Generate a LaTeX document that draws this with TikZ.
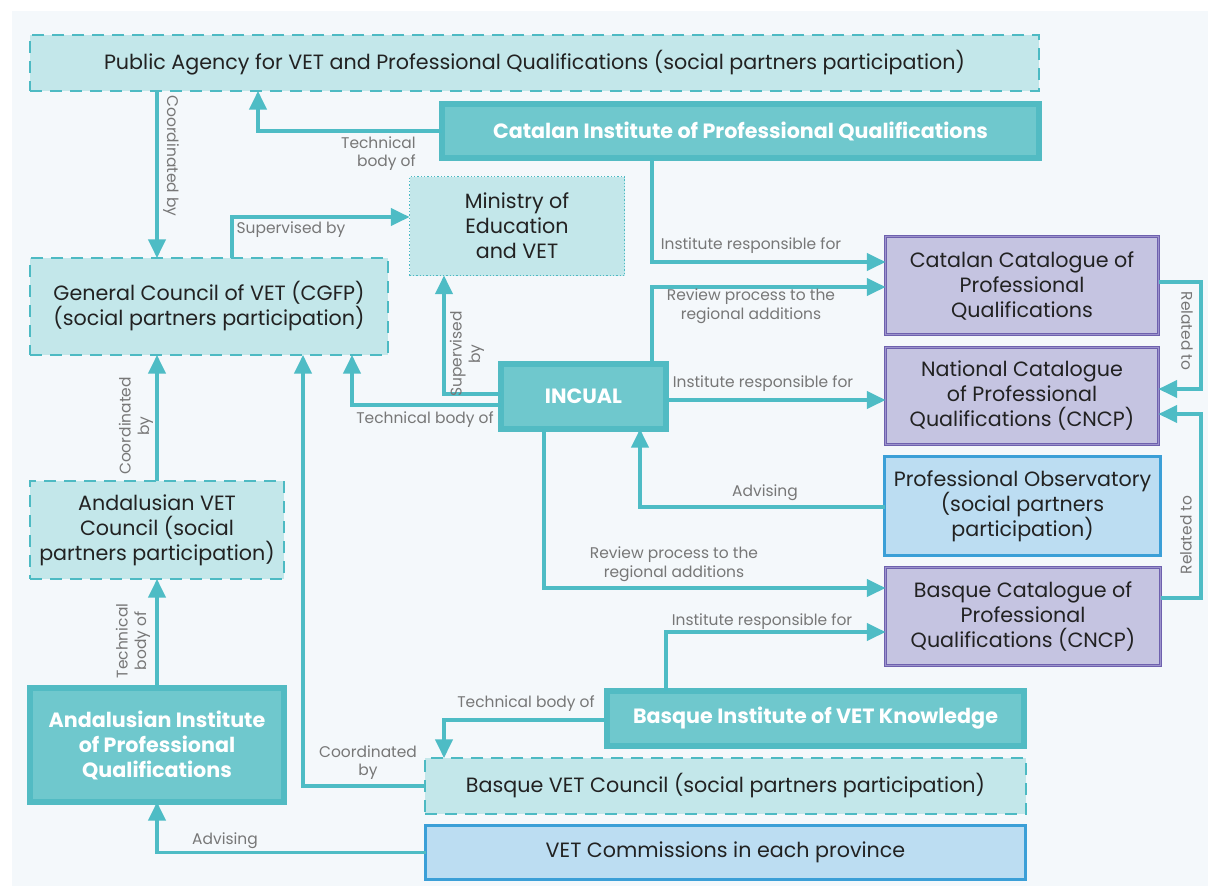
\documentclass[tikz,border=0pt]{standalone}
\usepackage{fontspec}
\setmainfont{Poppins}
\usetikzlibrary{arrows.meta}
\definecolor{lineC}{HTML}{4EBCC5}
\definecolor{lightfill}{HTML}{C3E7EA}
\definecolor{dashC}{HTML}{4DBAC3}
\definecolor{instFill}{HTML}{6FC8CD}
\definecolor{instBorder}{HTML}{52BBC3}
\definecolor{purpFill}{HTML}{C5C4E1}
\definecolor{purpBorder}{HTML}{6E61AE}
\definecolor{purpMid}{HTML}{9C93CC}
\definecolor{blueFill}{HTML}{BCDDF2}
\definecolor{blueBorder}{HTML}{3B9FD7}
\definecolor{txtC}{HTML}{222222}
\definecolor{lblC}{HTML}{777777}
\definecolor{bgC}{HTML}{F4F8FB}
\newcommand\pw[1]{#1*0.75pt}
\newcommand\mainfs{\fontsize{15.5}{18.75}\selectfont}
\newcommand\lblfs{\fontsize{11.6}{14}\selectfont}
\tikzset{
  box/.style={draw, outer sep=0pt, inner sep=0pt, align=center, text=txtC, font=\mainfs},
  dbox/.style={box, draw=dashC, fill=lightfill, line width=1.5pt, dash pattern=on 9pt off 6pt},
  mbox/.style={box, draw=dashC, fill=lightfill, line width=0.9pt, dash pattern=on 1pt off 1.5pt},
  ibox/.style={box, draw=instBorder, fill=instFill, line width=4.5pt, text=white, font=\mainfs\bfseries},
  pbox/.style={box, draw=purpBorder, fill=purpFill, line width=0.6pt, double=purpMid, double distance=1.1pt},
  bbox/.style={box, draw=blueBorder, fill=blueFill, line width=2.2pt},
  arr/.style={draw=lineC, line width=2.4pt, -{Triangle[length=14pt,width=13pt]}},
  lbl/.style={text=lblC, font=\lblfs, inner sep=0pt, align=center},
}
\begin{document}
\begin{tikzpicture}[x=0.75pt,y=-0.75pt]
\useasboundingbox (0,0) rectangle (1208,886);
\fill[white] (0,0) rectangle (1208,886);
\fill[bgC] (12,11) rectangle (1208,886);

% nodes
\node[dbox, minimum width=\pw{1009}, minimum height=\pw{56}] (pub) at (534.5,63) {Public Agency for VET and Professional Qualifications (social partners participation)};
\node[ibox, minimum width=\pw{597}, minimum height=\pw{54}] (cat) at (740.5,131) {Catalan Institute of Professional Qualifications};
\node[mbox, minimum width=\pw{215}, minimum height=\pw{99}] (min) at (517,226) {Ministry of\\Education\\and VET};
\node[dbox, minimum width=\pw{358}, minimum height=\pw{97}] (gc) at (209,306.5) {General Council of VET (CGFP)\\(social partners participation)};
\node[pbox, minimum width=\pw{273}, minimum height=\pw{98}] (ccat) at (1022,285.5) {Catalan Catalogue of\\Professional\\Qualifications};
\node[pbox, minimum width=\pw{273}, minimum height=\pw{97}] (ncat) at (1022,396) {National Catalogue\\of Professional\\Qualifications (CNCP)};
\node[ibox, minimum width=\pw{165}, minimum height=\pw{65}] (inc) at (583.5,396.5) {INCUAL};
\node[bbox, minimum width=\pw{276}, minimum height=\pw{99}] (obs) at (1022.5,506) {Professional Observatory\\(social partners\\participation)};
\node[dbox, minimum width=\pw{254}, minimum height=\pw{98}] (avc) at (157,530) {Andalusian VET\\Council (social\\partners participation)};
\node[pbox, minimum width=\pw{275}, minimum height=\pw{98}] (bcat) at (1023,616.5) {Basque Catalogue of\\Professional\\Qualifications (CNCP)};
\node[ibox, minimum width=\pw{254}, minimum height=\pw{114}] (ai) at (157,745) {Andalusian Institute\\of Professional\\Qualifications};
\node[ibox, minimum width=\pw{417}, minimum height=\pw{55}] (binst) at (815.5,718.5) {Basque Institute of VET Knowledge};
\node[dbox, minimum width=\pw{601}, minimum height=\pw{56}] (bvc) at (725.5,786) {Basque VET Council (social partners participation)};
\node[bbox, minimum width=\pw{600}, minimum height=\pw{54}] (vc) at (725.5,852.5) {VET Commissions in each province};

% connectors
\draw[arr] (cat.west) -| (pub.south -| 258,0);
\node[lbl, align=right, anchor=north east] (l1) at (416,136) {Technical\\body of};

\draw[arr] (pub.south -| 157,0) -- (gc.north -| 157,0);
\node[lbl, rotate=-90] (l2) at (171,156) {Coordinated by};

\draw[arr] (gc.north -| 232,0) |- (min.west |- 0,217);
\node[lbl] (l3) at (291,230) {Supervised by};

\draw[arr] (cat.south -| 652,0) |- (ccat.west |- 0,262);
\node[lbl] (l4) at (751,246) {Institute responsible for};

\draw[arr] (inc.north -| 652,0) |- (ccat.west |- 0,287);
\node[lbl] (l5) at (751,306.5) {Review process to the\\regional additions};

\draw[arr] (inc.west |- 0,394) -| (min.south -| 444,0);
\node[lbl, rotate=90] (l6) at (467,354) {Supervised\\by};

\draw[arr] (inc.west |- 0,405) -| (gc.south -| 352,0);
\node[lbl] (l7) at (425,420) {Technical body of};

\draw[arr] (inc.east |- 0,400) -- (ncat.west |- 0,400);
\node[lbl] (l8) at (763,384) {Institute responsible for};

\draw[arr] (obs.west |- 0,507) -| (inc.south -| 640,0);
\node[lbl] (l9) at (765,493) {Advising};

\draw[arr] (inc.south -| 544,0) |- (bcat.west |- 0,588);
\node[lbl] (l10) at (674,564.5) {Review process to the\\regional additions};

\draw[arr] (ccat.east |- 0,282) -| (1201,389) -- (ncat.east |- 0,389);
\node[lbl, rotate=-90] (l11) at (1187,331) {Related to};

\draw[arr] (bcat.east |- 0,598) -| (1201,414) -- (ncat.east |- 0,414);
\node[lbl, rotate=90] (l12) at (1186,535) {Related to};

\draw[arr] (binst.north -| 666,0) |- (bcat.west |- 0,632);
\node[lbl] (l13) at (762,622) {Institute responsible for};

\draw[arr] (binst.west |- 0,720) -| (bvc.north -| 444,0);
\node[lbl] (l14) at (526,704) {Technical body of};

\draw[arr] (bvc.west) -| (gc.south -| 303,0);
\node[lbl] (l15) at (368,762.5) {Coordinated\\by};

\draw[arr] (avc.north) -- (gc.south -| avc.north);
\node[lbl, rotate=90] (l16) at (136,426) {Coordinated\\by};

\draw[arr] (ai.north) -- (avc.south);
\node[lbl, rotate=90] (l17) at (133,641) {Technical\\body of};

\draw[arr] (vc.west) -| (ai.south);
\node[lbl] (l18) at (225,841) {Advising};
\end{tikzpicture}
\end{document}
